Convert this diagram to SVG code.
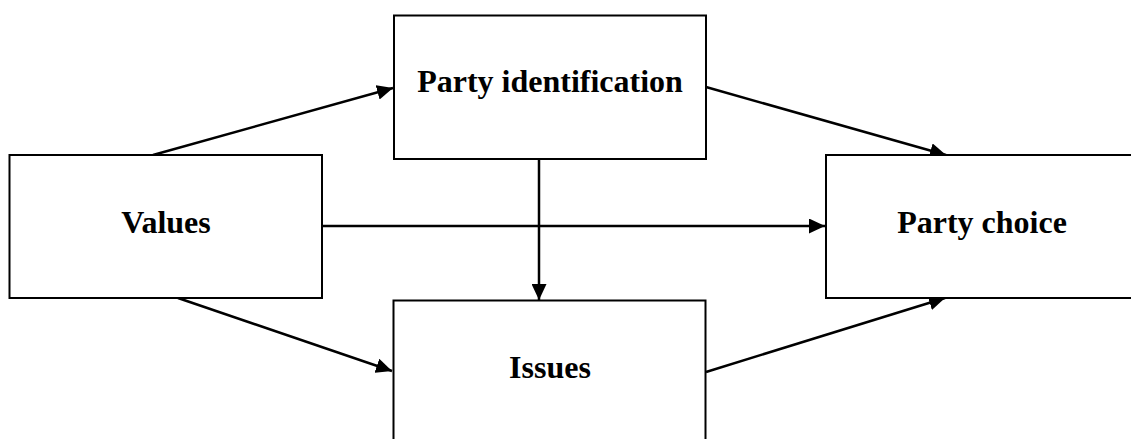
<svg xmlns="http://www.w3.org/2000/svg" width="1131" height="439" viewBox="0 0 1131 439">
<style>
.box{fill:#fff;stroke:#000;stroke-width:2}
.lbl{font-family:"Liberation Serif","Times New Roman",serif;font-weight:bold;font-size:32px;text-anchor:middle;fill:#000}
.edge{stroke:#000;stroke-width:2.5;fill:none;marker-end:url(#ah)}
</style>
<defs>
<marker id="ah" viewBox="0 0 16 15" refX="16" refY="7.5" markerWidth="16" markerHeight="15" markerUnits="userSpaceOnUse" orient="auto">
<path d="M0,0 L16,7.5 L0,15 Z" fill="#000"/>
</marker>
</defs>
<g id="connectors">
<line class="edge" x1="153" y1="155" x2="393" y2="88"/>
<line class="edge" x1="706" y1="87" x2="946" y2="155"/>
<line class="edge" x1="539" y1="159" x2="539" y2="300"/>
<line class="edge" x1="322" y1="226" x2="825" y2="226"/>
<line class="edge" x1="178" y1="298" x2="392" y2="371"/>
<line class="edge" x1="706" y1="372" x2="945" y2="298"/>
</g>
<g id="values">
<rect class="box" x="9.5" y="155" width="312.5" height="143"/>
<text class="lbl" x="166" y="233">Values</text>
</g>
<g id="party-identification">
<rect class="box" x="394" y="15.5" width="312" height="143.5"/>
<text class="lbl" x="550" y="92">Party identification</text>
</g>
<g id="issues">
<rect class="box" x="393.5" y="300.5" width="312" height="150"/>
<text class="lbl" x="550" y="378">Issues</text>
</g>
<g id="party-choice">
<rect class="box" x="826" y="155" width="320" height="143"/>
<text class="lbl" x="982" y="233">Party choice</text>
</g>
</svg>
